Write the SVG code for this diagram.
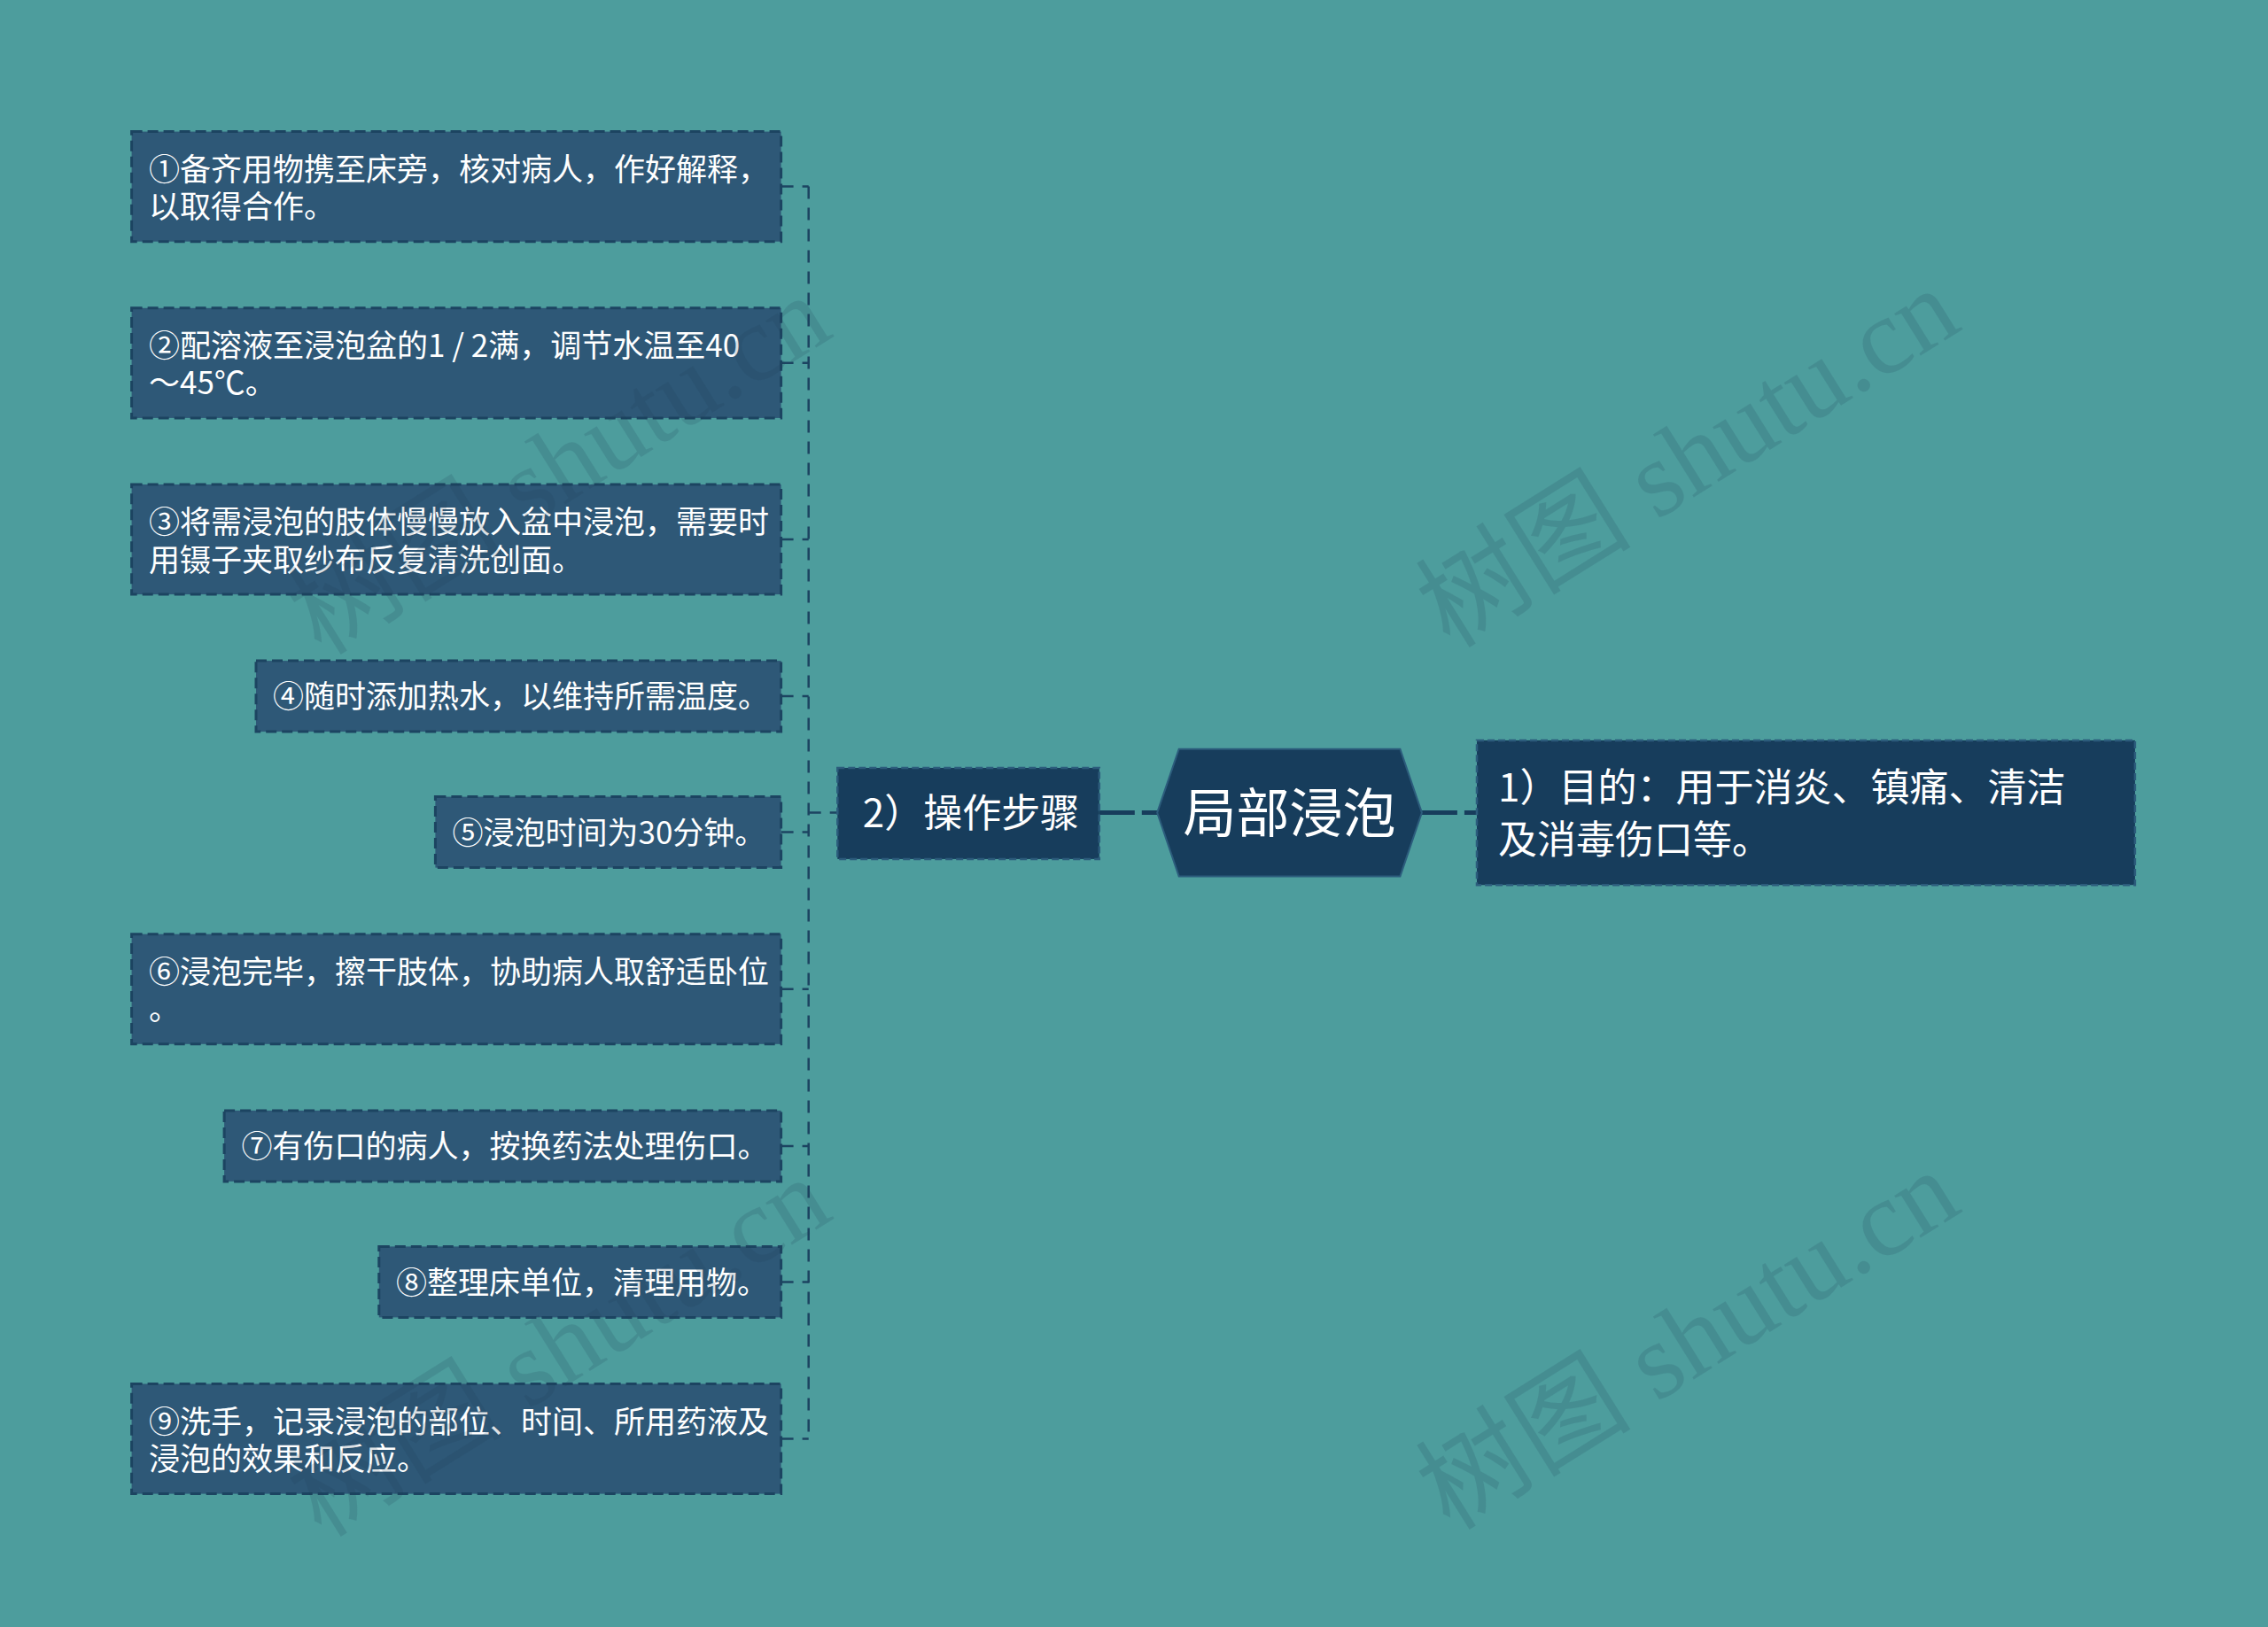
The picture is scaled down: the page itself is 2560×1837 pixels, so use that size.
<svg xmlns="http://www.w3.org/2000/svg" width="2560" height="1837" viewBox="0 0 2560 1837">
<style>
.step{fill:#2e5877;stroke:#1c4461;stroke-width:3;stroke-dasharray:12 6}
.dark{fill:#173d5c;stroke:#2c5c7c;stroke-width:2.5;stroke-dasharray:8 4}
.t{fill:#ffffff;font-family:"Noto Sans CJK SC","Noto Sans",sans-serif}
.s{font-size:35px}
.thin{fill:none;stroke:#1c4461;stroke-width:2.5;stroke-dasharray:14 10}
.thick{fill:none;stroke:#173d5c;stroke-width:5;stroke-dasharray:40 8}
.wm{fill:#1c3f5a;fill-opacity:0.16;font-family:"Liberation Serif","Noto Sans CJK SC",serif;font-size:122px}
</style>
<rect width="2560" height="1837" fill="#4d9d9d"/>
<g id="connectors">
<path class="thin" d="M912.7 210.6V1624.5"/>
<path class="thin" d="M881.6 210.6H912.7M881.6 409.8H912.7M881.6 609H912.7M881.6 786.1H912.7M881.6 939.6H912.7M881.6 1116.8H912.7M881.6 1293.9H912.7M881.6 1447.4H912.7M881.6 1624.5H912.7"/>
<path class="thin" d="M912.7 917.6H945.3"/>
<path class="thick" d="M1240.8 917.6H1306.2"/>
<path class="thick" d="M1604.9 917.6H1667"/>
</g>
<g id="node-step1">
<rect class="step" x="148.6" y="148.6" width="733" height="124.1"/>
<text class="t s" x="168" y="203.6">①备齐用物携至床旁，核对病人，作好解释，</text>
<text class="t s" x="168" y="246.1">以取得合作。</text>
</g>
<g id="node-step2">
<rect class="step" x="148.6" y="347.8" width="733" height="124.1"/>
<text class="t s" x="168" y="402.8">②配溶液至浸泡盆的1 / 2满，调节水温至40</text>
<text class="t s" x="168" y="445.3">～45℃。</text>
</g>
<g id="node-step3">
<rect class="step" x="148.6" y="547" width="733" height="124.1"/>
<text class="t s" x="168" y="602">③将需浸泡的肢体慢慢放入盆中浸泡，需要时</text>
<text class="t s" x="168" y="644.5">用镊子夹取纱布反复清洗创面。</text>
</g>
<g id="node-step4">
<rect class="step" x="289" y="746.1" width="592.6" height="80"/>
<text class="t s" x="308" y="799.3">④随时添加热水，以维持所需温度。</text>
</g>
<g id="node-step5">
<rect class="step" x="491.4" y="899.6" width="390.2" height="80"/>
<text class="t s" x="510.5" y="952.8">⑤浸泡时间为30分钟。</text>
</g>
<g id="node-step6">
<rect class="step" x="148.6" y="1054.7" width="733" height="124.1"/>
<text class="t s" x="168" y="1109.8">⑥浸泡完毕，擦干肢体，协助病人取舒适卧位</text>
<text class="t s" x="168" y="1152.3">。</text>
</g>
<g id="node-step7">
<rect class="step" x="253.1" y="1253.9" width="628.5" height="80"/>
<text class="t s" x="272.5" y="1307.1">⑦有伤口的病人，按换药法处理伤口。</text>
</g>
<g id="node-step8">
<rect class="step" x="427.8" y="1407.4" width="453.8" height="80"/>
<text class="t s" x="447" y="1460.6">⑧整理床单位，清理用物。</text>
</g>
<g id="node-step9">
<rect class="step" x="148.6" y="1562.5" width="733" height="124.1"/>
<text class="t s" x="168" y="1617.5">⑨洗手，记录浸泡的部位、时间、所用药液及</text>
<text class="t s" x="168" y="1660">浸泡的效果和反应。</text>
</g>
<g id="node-steps">
<rect class="dark" x="945.3" y="867" width="295.5" height="102.9"/>
<text class="t" x="1096" y="934" font-size="44" text-anchor="middle">2）操作步骤</text>
</g>
<g id="node-root">
<polygon points="1306.2,917.6 1330.7,845.7 1580.4,845.7 1604.9,917.6 1580.4,989.4 1330.7,989.4" fill="#173d5c" stroke="#2c5c7c" stroke-width="2"/>
<text class="t" x="1455.6" y="940" font-size="60" text-anchor="middle">局部浸泡</text>
</g>
<g id="node-purpose">
<rect class="dark" x="1667" y="835.9" width="742.9" height="163.3"/>
<text class="t" x="1691" y="904.5" font-size="44">1）目的：用于消炎、镇痛、清洁</text>
<text class="t" x="1691" y="963.5" font-size="44">及消毒伤口等。</text>
</g>
<g id="watermark">
<text class="wm" text-anchor="middle" transform="translate(653,560) rotate(-32)">树图 shutu.cn</text>
<text class="wm" text-anchor="middle" transform="translate(1927,552) rotate(-32)">树图 shutu.cn</text>
<text class="wm" text-anchor="middle" transform="translate(653,1556) rotate(-32)">树图 shutu.cn</text>
<text class="wm" text-anchor="middle" transform="translate(1927,1548) rotate(-32)">树图 shutu.cn</text>
</g>
</svg>
